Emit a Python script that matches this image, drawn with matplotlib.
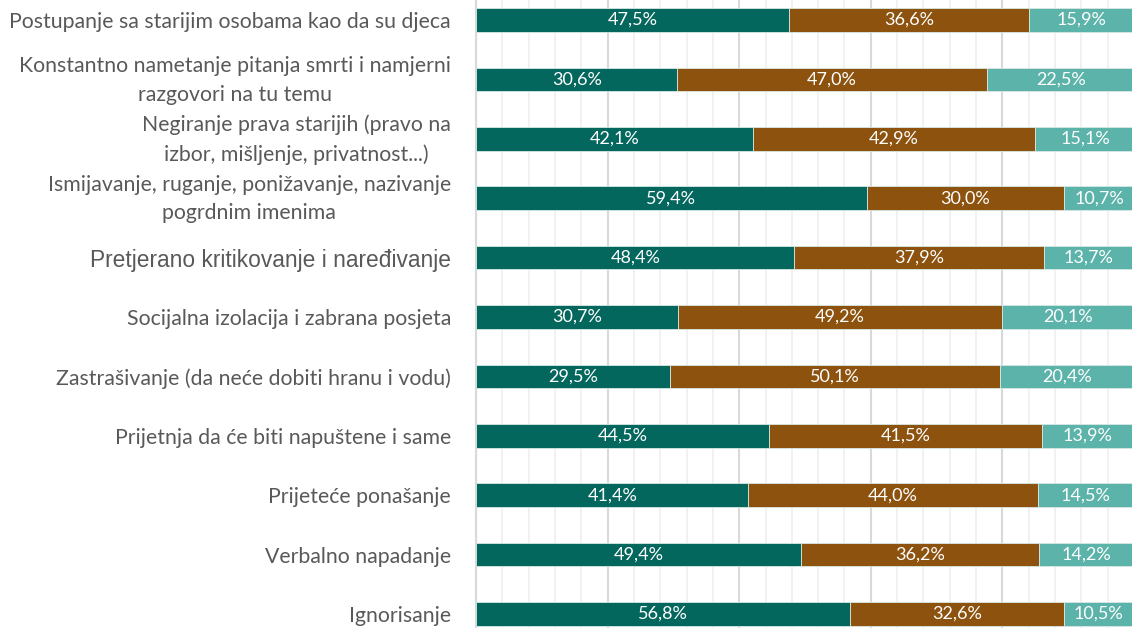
import matplotlib
matplotlib.use("Agg")
import matplotlib.pyplot as plt
from matplotlib.ticker import MultipleLocator
from matplotlib.transforms import offset_copy

categories = [
    "Postupanje sa starijim osobama kao da su djeca",
    "Konstantno nametanje pitanja smrti i namjerni\nrazgovori na tu temu",
    "Negiranje prava starijih (pravo na\nizbor, mišljenje, privatnost...)",
    "Ismijavanje, ruganje, ponižavanje, nazivanje\npogrdnim imenima",
    "Pretjerano kritikovanje i naređivanje",
    "Socijalna izolacija i zabrana posjeta",
    "Zastrašivanje (da neće dobiti hranu i vodu)",
    "Prijetnja da će biti napuštene i same",
    "Prijeteće ponašanje",
    "Verbalno napadanje",
    "Ignorisanje",
]
series1 = [47.5, 30.6, 42.1, 59.4, 48.4, 30.7, 29.5, 44.5, 41.4, 49.4, 56.8]
series2 = [36.6, 47.0, 42.9, 30.0, 37.9, 49.2, 50.1, 41.5, 44.0, 36.2, 32.6]
series3 = [15.9, 22.5, 15.1, 10.7, 13.7, 20.1, 20.4, 13.9, 14.5, 14.2, 10.5]
colors = ["#04675E", "#8C520E", "#5BB3A9"]

W, H = 1132, 628
fig = plt.figure(figsize=(W / 100, H / 100), dpi=100)
ax = fig.add_axes([476 / W, 0, 658 / W, 1])

y = list(range(len(categories)))
left = [0.0] * len(categories)
for vals, col in zip([series1, series2, series3], colors):
    ax.barh(y, vals, left=left, height=0.40, color=col,
            edgecolor="#d8e8e4", linewidth=0.6, zorder=3)
    for yi, l, v in zip(y, left, vals):
        ax.text(l + v / 2, yi, f"{v:.1f}%".replace(".", ","), ha="center", va="center",
                color="white", fontsize=13, family="Lato", zorder=4)
    left = [a + b for a, b in zip(left, vals)]

ax.set_xlim(0, 100)
ax.set_ylim((H - 20) / 59.4, -20 / 59.4)
ax.xaxis.set_major_locator(MultipleLocator(20))
ax.xaxis.set_minor_locator(MultipleLocator(4))
ax.grid(True, axis="x", which="major", color="#d9d9d9", linewidth=1.5, zorder=0)
ax.grid(True, axis="x", which="minor", color="#efefef", linewidth=1.2, zorder=0)
ax.tick_params(axis="x", which="both", length=0, labelbottom=False)
for s in ["top", "right", "bottom"]:
    ax.spines[s].set_visible(False)
ax.spines["left"].set_color("#d9d9d9")
ax.spines["left"].set_linewidth(1.5)

ax.set_yticks(y)
ax.set_yticklabels([])
ax.tick_params(axis="y", length=0)

for i, (yi, cat) in enumerate(zip(y, categories)):
    multi = "\n" in cat
    tr = offset_copy(ax.get_yaxis_transform(), fig=fig, x=-18, y=(4 if multi else 0), units="points")
    kw = dict(ha="right", va="center_baseline", multialignment="center",
              color="#595959", transform=tr, linespacing=1.55)
    if i == 4:
        ax.text(0, yi, cat, family="Liberation Sans", fontsize=16.4, **kw)
    else:
        ax.text(0, yi, cat, family="Lato", fontsize=15.3, **kw)

fig.savefig("out.png", dpi=100)
